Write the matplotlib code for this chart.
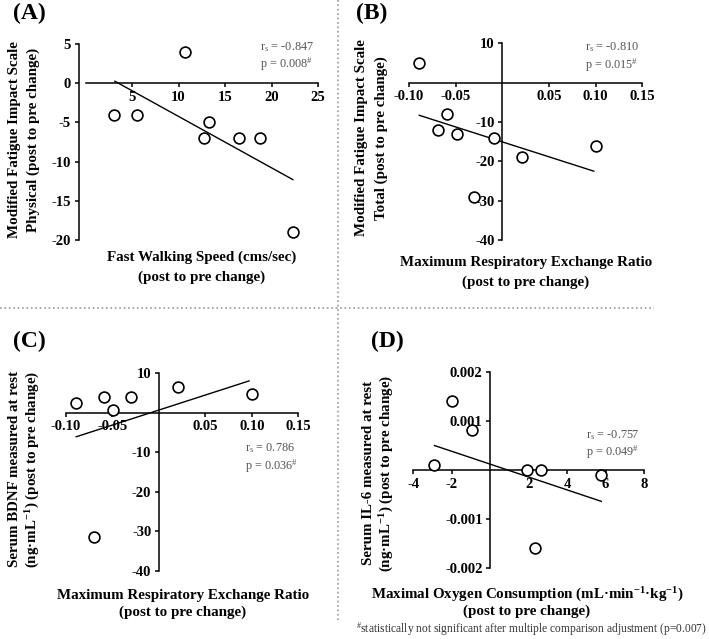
import numpy as np
import matplotlib
matplotlib.use('Agg')
import matplotlib.pyplot as plt
from matplotlib.lines import Line2D

plt.rcParams['font.family'] = 'Liberation Serif'
plt.rcParams['mathtext.fontset'] = 'custom'
plt.rcParams['mathtext.rm'] = 'Liberation Serif'
plt.rcParams['mathtext.it'] = 'Liberation Serif:italic'
plt.rcParams['mathtext.bf'] = 'Liberation Serif:bold'

# ---- data ----
# (A) walking speed vs MFIS physical
a_x = [3.1, 5.5, 10.7, 12.7, 13.3, 16.5, 18.8, 22.3]
a_y = [-4, -4, 4, -7, -5, -7, -7, -19]
a_fit_x = [3.15, 22.3]
a_fit_y = [0.25, -12.3]

# (B) max RER vs MFIS total
b_x = [-0.089, -0.059, -0.069, -0.049, -0.009, -0.030, 0.021, 0.100]
b_y = [5, -8, -12, -13, -14, -29, -19, -16]
b_fit_x = [-0.089, 0.098]
b_fit_y = [-8.3, -22.5]

# (C) max RER vs serum BDNF
c_x = [-0.089, -0.059, -0.049, -0.030, 0.020, 0.100, -0.070]
c_y = [2.5, 4.0, 0.6, 4.0, 6.5, 4.6, -31.5]
c_fit_x = [-0.089, 0.097]
c_fit_y = [-6.1, 8.0]

# (D) VO2max vs serum IL-6
d_x = [-2.9, -2.0, -0.95, 1.94, 2.63, 5.78, 2.32]
d_y = [0.0001, 0.0014, 0.00082, 0.0, 0.0, -0.0001, -0.0016]
d_fit_x = [-2.9, 5.78]
d_fit_y = [0.0005, -0.00064]

W, H = 709, 639
fig = plt.figure(figsize=(W / 100, H / 100), dpi=100)


def px_box(x0, x1, ytop, ybot):
    return [x0 / W, 1 - ybot / H, (x1 - x0) / W, (ybot - ytop) / H]


def ftext(x, y, s, **kw):
    fig.text(x / W, 1 - y / H, s, **kw)


def panel(box, xlim, ylim, xt, xtl, yt, ytl, x, y, fx, fy, left_outward=False):
    ax = fig.add_axes(px_box(*box))
    ax.set_xlim(*xlim)
    ax.set_ylim(*ylim)
    for s in ['top', 'right']:
        ax.spines[s].set_visible(False)
    ax.spines['bottom'].set_position(('data', 0))
    if left_outward:
        ax.spines['left'].set_position(('outward', 5))
    else:
        ax.spines['left'].set_position(('data', 0))
    for s in ['left', 'bottom']:
        ax.spines[s].set_linewidth(1.1)
    ax.set_xticks(xt)
    ax.set_xticklabels(xtl)
    ax.set_yticks(yt)
    ax.set_yticklabels(ytl)
    ax.tick_params(direction='out', length=3, width=1.1, pad=2.5, labelsize=10.5)
    for lab in ax.get_xticklabels() + ax.get_yticklabels():
        lab.set_fontweight('bold')
    ax.patch.set_alpha(0)
    ax.plot(fx, fy, color='black', lw=1.0, zorder=2)
    ax.plot(x, y, 'o', ms=7.8, mfc='white', mec='black', mew=1.2,
            clip_on=False, zorder=3)
    return ax


lab_kw = dict(fontsize=10.8, fontweight='bold', ha='center', va='center')
note_kw = dict(fontsize=8.8, color='#555555', ha='left', va='center')
letter_kw = dict(fontsize=17, fontweight='bold', va='top')
MINUS1 = r'$^{\mathregular{-1}}$'

# (A)
panel((85.6, 318, 44, 240), (0, 25), (-20, 5),
      [5, 10, 15, 20, 25], ['5', '10', '15', '20', '25'],
      [5, 0, -5, -10, -15, -20], ['5', '0', '-5', '-10', '-15', '-20'],
      a_x, a_y, a_fit_x, a_fit_y, left_outward=True)
ftext(13, 3, '(A)', **letter_kw)
ftext(15, 140, 'Modified Fatigue Impact Scale', rotation=90, **lab_kw)
ftext(33, 140, 'Physical (post to pre change)', rotation=90, **lab_kw)
ftext(202, 257, 'Fast Walking Speed (cms/sec)', **lab_kw)
ftext(202, 277, '(post to pre change)', **lab_kw)
ftext(260, 47, r'r$_\mathregular{s}$ = -0.847', **note_kw)
ftext(260, 64, r'p = 0.008$^\mathregular{\#}$', **note_kw)

# (B)
panel((409, 642.3, 43.3, 240), (-0.10, 0.15), (-40, 10),
      [-0.10, -0.05, 0.05, 0.10, 0.15], ['-0.10', '-0.05', '0.05', '0.10', '0.15'],
      [10, -10, -20, -30, -40], ['10', '-10', '-20', '-30', '-40'],
      b_x, b_y, b_fit_x, b_fit_y)
ftext(356, 3, '(B)', **letter_kw)
ftext(362, 138, 'Modified Fatigue Impact Scale', rotation=90, **lab_kw)
ftext(381, 138, 'Total (post to pre change)', rotation=90, **lab_kw)
ftext(526, 263, 'Maximum Respiratory Exchange Ratio', **lab_kw)
ftext(526, 282, '(post to pre change)', **lab_kw)
ftext(585, 47, r'r$_\mathregular{s}$ = -0.810', **note_kw)
ftext(585, 65, r'p = 0.015$^\mathregular{\#}$', **note_kw)

# (C)
panel((66, 298.3, 373, 571), (-0.10, 0.15), (-40, 10),
      [-0.10, -0.05, 0.05, 0.10, 0.15], ['-0.10', '-0.05', '0.05', '0.10', '0.15'],
      [10, -10, -20, -30, -40], ['10', '-10', '-20', '-30', '-40'],
      c_x, c_y, c_fit_x, c_fit_y)
ftext(13, 331, '(C)', **letter_kw)
ftext(15, 469, 'Serum BDNF measured at rest', rotation=90, **lab_kw)
ftext(33, 469, '(ng\u00b7mL' + MINUS1 + ') (post to pre change)', rotation=90, **lab_kw)
ftext(183, 595, 'Maximum Respiratory Exchange Ratio', **lab_kw)
ftext(183, 612, '(post to pre change)', **lab_kw)
ftext(245, 448, r'r$_\mathregular{s}$ = 0.786', **note_kw)
ftext(245, 466, r'p = 0.036$^\mathregular{\#}$', **note_kw)

# (D)
panel((413.3, 644, 372, 568), (-4, 8), (-0.002, 0.002),
      [-4, -2, 2, 4, 6, 8], ['-4', '-2', '2', '4', '6', '8'],
      [0.002, 0.001, -0.001, -0.002], ['0.002', '0.001', '-0.001', '-0.002'],
      d_x, d_y, d_fit_x, d_fit_y)
ftext(371, 331, '(D)', **letter_kw)
ftext(369, 473, 'Serum IL-6 measured at rest', rotation=90, **lab_kw)
ftext(387, 473, '(ng\u00b7mL' + MINUS1 + ') (post to pre change)', rotation=90, **lab_kw)
ftext(527, 595, 'Maximal Oxygen Consumption (mL\u00b7min' + MINUS1 + '\u00b7kg' + MINUS1 + ')',
      **lab_kw)
ftext(527, 611, '(post to pre change)', **lab_kw)
ftext(586, 435, r'r$_\mathregular{s}$ = -0.757', **note_kw)
ftext(586, 452, r'p = 0.049$^\mathregular{\#}$', **note_kw)

ftext(707, 629, r'$^\mathregular{\#}$statistically not significant after multiple '
      'comparison adjustment (p=0.007)', fontsize=8.3, color='#333333',
      ha='right', va='center')

# dotted dividers
fig.add_artist(Line2D([0, 654 / W], [1 - 308 / H] * 2, ls=':', color='#999999', lw=1.2))
fig.add_artist(Line2D([338 / W] * 2, [1, 1 - 622 / H], ls=':', color='#999999', lw=1.2))

fig.savefig('out.png', dpi=100)
